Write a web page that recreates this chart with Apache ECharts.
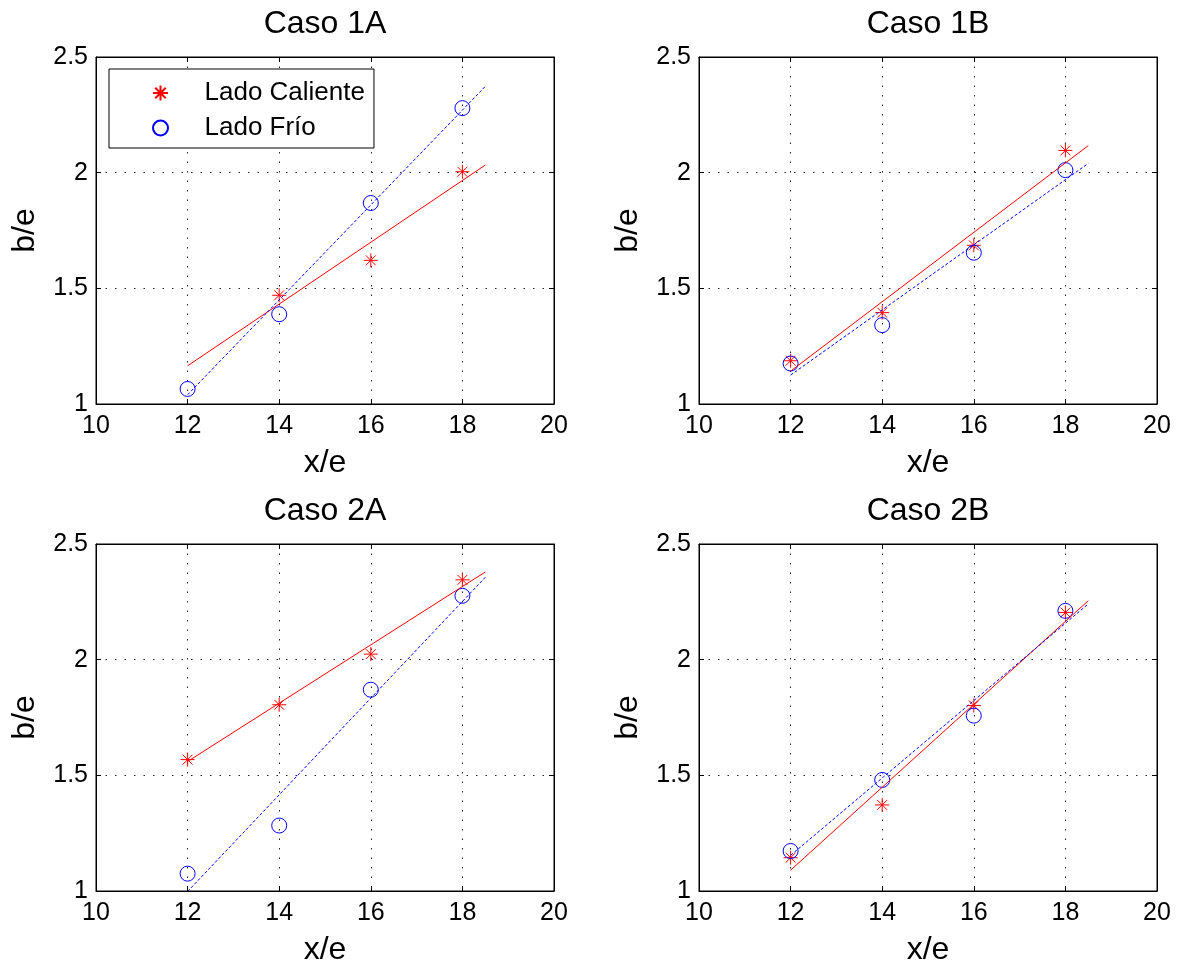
<!DOCTYPE html>
<html>
<head>
<meta charset="utf-8">
<script src="https://cdn.jsdelivr.net/npm/echarts@6/dist/echarts.min.js"></script>
<style>
  html, body { margin: 0; padding: 0; background: #fff; }
  #chart { width: 1182px; height: 962px; }
</style>
</head>
<body>
<div id="chart"></div>
<script>
// datos
var xs = [12, 14, 16, 18];
var fitX = [12, 18.5];
var titles = ['Caso 1A', 'Caso 1B', 'Caso 2A', 'Caso 2B'];

var caliente1A = [null, 1.47, 1.621, 2.004];
var frio1A = [1.065, 1.388, 1.869, 2.279];
var fitCaliente1A = [1.165, 2.033];
var fitFrio1A = [1.04, 2.373];

var caliente1B = [1.187, 1.395, 1.686, 2.096];
var frio1B = [1.175, 1.341, 1.654, 2.011];
var fitCaliente1B = [1.142, 2.117];
var fitFrio1B = [1.125, 2.04];

var caliente2A = [1.568, 1.805, 2.024, 2.345];
var frio2A = [1.075, 1.283, 1.87, 2.276];
var fitCaliente2A = [1.56, 2.379];
var fitFrio2A = [0.998, 2.356];

var caliente2B = [1.144, 1.372, 1.802, 2.204];
var frio2B = [1.173, 1.48, 1.758, 2.211];
var fitCaliente2B = [1.09, 2.255];
var fitFrio2B = [1.154, 2.241];

var FONT = '"Liberation Sans", Arial, Helvetica, sans-serif';
var ROJO = '#ff0000';
var AZUL = '#0000ff';
var estrella = 'path://M0,-10L0,10M-10,0L10,0M-7,-7L7,7M-7,7L7,-7';

var paneles = [
  { cal: caliente1A, frio: frio1A, fc: fitCaliente1A, ff: fitFrio1A, left: 96, top: 57 },
  { cal: caliente1B, frio: frio1B, fc: fitCaliente1B, ff: fitFrio1B, left: 699, top: 57 },
  { cal: caliente2A, frio: frio2A, fc: fitCaliente2A, ff: fitFrio2A, left: 96, top: 544 },
  { cal: caliente2B, frio: frio2B, fc: fitCaliente2B, ff: fitFrio2B, left: 699, top: 544 }
];

function pares(x, y) {
  var out = [];
  for (var k = 0; k < x.length; k++) {
    if (y[k] != null) out.push([x[k], y[k]]);
  }
  return out;
}

var grids = [], xAxes = [], yAxes = [], series = [];
var tick = { show: true, inside: true, length: 5, lineStyle: { color: '#000', width: 1 } };
var linea = { show: true, lineStyle: { color: '#000', width: 1 } };
var grilla = { show: true, lineStyle: { color: '#222', width: 1, type: [1.5, 8] } };

paneles.forEach(function (p, i) {
  grids.push({
    left: p.left, top: p.top, width: 458, height: 347,
    show: true, borderColor: '#000', borderWidth: 1,
    outerBoundsMode: 'none'
  });
  // eje x inferior
  xAxes.push({
    type: 'value', gridIndex: i, position: 'bottom',
    min: 10, max: 20, interval: 2,
    axisLine: linea, axisTick: tick, splitLine: grilla,
    axisLabel: { color: '#000', fontSize: 25, fontFamily: FONT, margin: 10 },
    name: 'x/e', nameLocation: 'middle', nameGap: 43,
    nameTextStyle: { color: '#000', fontSize: 32, fontFamily: FONT }
  });
  // eje x superior (titulo)
  xAxes.push({
    type: 'value', gridIndex: i, position: 'top',
    min: 10, max: 20, interval: 2,
    axisLine: linea, axisTick: tick, splitLine: { show: false },
    axisLabel: { show: false },
    name: titles[i], nameLocation: 'middle', nameGap: 17,
    nameTextStyle: { color: '#000', fontSize: 32, fontFamily: FONT }
  });
  yAxes.push({
    type: 'value', gridIndex: i, position: 'left',
    min: 1, max: 2.5, interval: 0.5,
    axisLine: linea, axisTick: tick, splitLine: grilla,
    axisLabel: { color: '#000', fontSize: 25, fontFamily: FONT, margin: 8 },
    name: 'b/e', nameLocation: 'middle', nameGap: 55, nameRotate: 90,
    nameTextStyle: { color: '#000', fontSize: 32, fontFamily: FONT }
  });
  yAxes.push({
    type: 'value', gridIndex: i, position: 'right',
    min: 1, max: 2.5, interval: 0.5,
    axisLine: linea, axisTick: tick, splitLine: { show: false },
    axisLabel: { show: false }
  });

  series.push({
    type: 'line', name: 'ajuste caliente', xAxisIndex: 2 * i, yAxisIndex: 2 * i,
    data: pares(fitX, p.fc), symbol: 'none', silent: true,
    lineStyle: { color: ROJO, width: 1 }
  });
  series.push({
    type: 'line', name: 'ajuste frio', xAxisIndex: 2 * i, yAxisIndex: 2 * i,
    data: pares(fitX, p.ff), symbol: 'none', silent: true,
    lineStyle: { color: AZUL, width: 1, type: [3, 2] }
  });
  series.push({
    type: 'scatter', name: 'Lado Caliente', xAxisIndex: 2 * i, yAxisIndex: 2 * i,
    data: pares(xs, p.cal), symbol: estrella, symbolSize: 14,
    itemStyle: { color: 'rgba(0,0,0,0)', borderColor: ROJO, borderWidth: 1, opacity: 1 }
  });
  series.push({
    type: 'scatter', name: 'Lado Frío', xAxisIndex: 2 * i, yAxisIndex: 2 * i,
    data: pares(xs, p.frio), symbol: 'circle', symbolSize: 15,
    itemStyle: { color: 'rgba(0,0,0,0)', borderColor: AZUL, borderWidth: 1, opacity: 1 }
  });
});

var chart = echarts.init(document.getElementById('chart'), null, { renderer: 'canvas' });
chart.setOption({
  animation: false,
  backgroundColor: '#fff',
  textStyle: { fontFamily: FONT },
  grid: grids,
  xAxis: xAxes,
  yAxis: yAxes,
  legend: {
    data: [
      { name: 'Lado Caliente', icon: estrella },
      { name: 'Lado Frío', icon: 'circle' }
    ],
    orient: 'vertical', left: 109, top: 69,
    padding: [11, 9, 7, 43],
    itemWidth: 78, itemHeight: 15, itemGap: 9,
    backgroundColor: '#fff', borderColor: '#000', borderWidth: 1, borderRadius: 0,
    selectedMode: false,
    textStyle: { color: '#000', fontSize: 26, fontFamily: FONT }
  },
  series: series
});
</script>
</body>
</html>
